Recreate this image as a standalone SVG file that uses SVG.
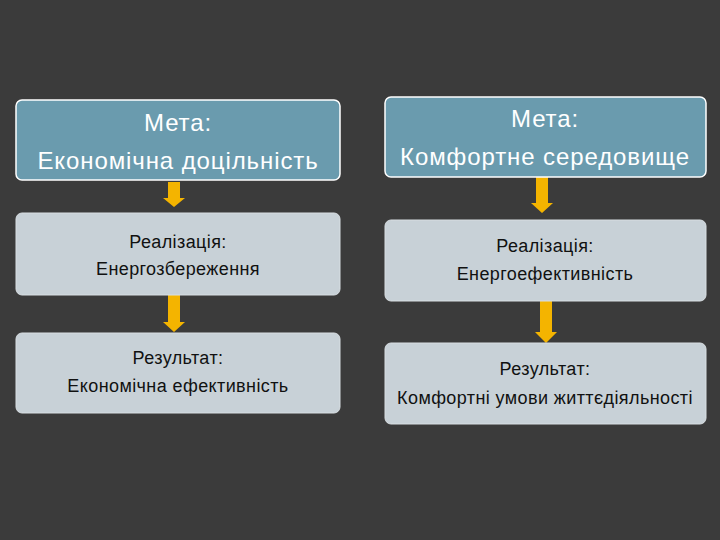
<svg xmlns="http://www.w3.org/2000/svg" width="720" height="540" viewBox="0 0 720 540">
<style>
.t{fill:#6a9bae;stroke:#fff;stroke-width:1.5}
.g{fill:#c8d1d7;stroke:#d8dee2;stroke-width:1}
.a{fill:#f4b400}
text{font-family:"Liberation Sans",Arial,sans-serif;text-anchor:middle}
.w{fill:#fff;font-size:24px;letter-spacing:0.9px}
.k{fill:#111;font-size:18px;letter-spacing:0.4px}
</style>
<rect width="720" height="540" fill="#3b3b3b"/>
<g id="conn">
<path class="a" d="M168,182h12v16h5l-11,9l-11,-9h5z"/>
<path class="a" d="M168,286h12v36h5l-11,10l-11,-10h5z"/>
<path class="a" d="M536,177h12v26h5l-11,10l-11,-10h5z"/>
<path class="a" d="M540,288h12v44h5l-11,11l-11,-11h5z"/>
</g>
<g id="n1"><rect class="t" x="16" y="100" width="324" height="80" rx="6"/><text class="w" x="178" y="131">Мета:</text><text class="w" x="178" y="169">Економічна доцільність</text></g>
<g id="n2"><rect class="g" x="16" y="213" width="324" height="82" rx="6"/><text class="k" x="178" y="248">Реалізація:</text><text class="k" x="178" y="275">Енергозбереження</text></g>
<g id="n3"><rect class="g" x="16" y="333" width="324" height="80" rx="6"/><text class="k" x="178" y="364">Результат:</text><text class="k" x="178" y="392">Економічна ефективність</text></g>
<g id="n4"><rect class="t" x="385" y="97" width="321" height="80" rx="6"/><text class="w" x="545" y="127">Мета:</text><text class="w" x="545" y="165">Комфортне середовище</text></g>
<g id="n5"><rect class="g" x="385" y="220" width="321" height="81" rx="6"/><text class="k" x="545" y="252">Реалізація:</text><text class="k" x="545" y="280">Енергоефективність</text></g>
<g id="n6"><rect class="g" x="385" y="343" width="321" height="81" rx="6"/><text class="k" x="545" y="375">Результат:</text><text class="k" x="545" y="404">Комфортні умови життєдіяльності</text></g>
</svg>
